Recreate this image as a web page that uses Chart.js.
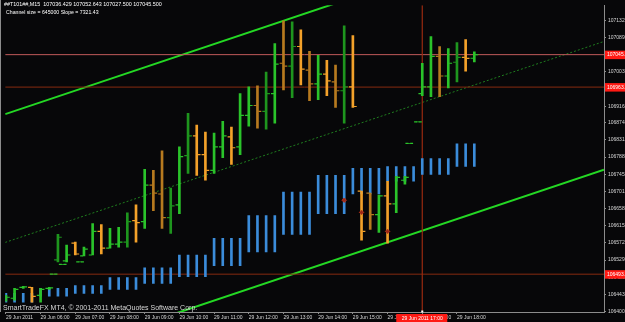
<!DOCTYPE html>
<html><head><meta charset="utf-8">
<script src="https://cdn.jsdelivr.net/npm/chart.js@4.4.0/dist/chart.umd.min.js"></script>
<style>html,body{margin:0;padding:0;background:#070709;overflow:hidden}#wrap{width:625px;height:322px;position:relative}</style>
</head><body><div id="wrap"><canvas id="c" width="625" height="322"></canvas></div>
<script>
// ---------------- DATA ----------------
const headerLine1 = "##T101##,M15  107036.429 107052.643 107027.500 107045.500";
const headerLine2 = "Channel size = 645000 Slope = 7321.43";
const copyright = "SmartTradeFX MT4, \u00A9 2001-2011 MetaQuotes Software Corp.";

// bar number (M15 bars from 29 Jun 05:00)
const timeLabelBars = [0,4,8,12,16,20,24,28,32,36,40,44,48,52];
const timeLabels = ["29 Jun 2011","29 Jun 06:00","29 Jun 07:00","29 Jun 08:00","29 Jun 09:00","29 Jun 10:00","29 Jun 11:00","29 Jun 12:00","29 Jun 13:00","29 Jun 14:00","29 Jun 15:00","29 Jun 16:00","29 Jun 17:00","29 Jun 18:00"];

const priceTicks = [106400,106443,106486,106529,106572,106615,106658,106701,106745,106788,106831,106874,106916,106960,107003,107046,107089,107132];
const priceLabels = ["106400","106443","106486","106529","106572","106615","106658","106701","106745","106788","106831","106874","106916","106960","107003","107046","107089","107132"];

const barIdx = [0,1,2,3,4,5,5.5,6,6.55,7,8,8.55,9,10,11,12,13,14,15,16,17,18,19,20,21,22,23,24,25,26,27,28,29,30,31,32,33,34,35,36,37,38,39,40,41,42,43,44,45,46,46.5,47.5,48,49,50,51,52,53,54];
const open  = [106430.4,106432.9,106460.1,106460.1,106440.3,106457.6,106493.4,106529.3,106518.2,106526.9,106571.4,106524.4,106539.2,106541.7,106601.0,106559.0,106568.9,106573.9,106628.3,106625.8,106717.3,106695.0,106635.7,106667.8,106791.5,106841.0,106794.0,106754.4,106813.7,106838.5,106813.7,106892.8,106917.6,106902.7,106947.3,107023.9,107016.5,107066.0,107006.6,106972.0,106996.7,106977.0,106954.7,106964.6,106702.4,106697.4,106643.1,106690.1,106670.3,106729.6,106822.4,106876.3,106947.3,106964.6,107041.2,106991.8,107026.4,107038.8,107036.429];
const high  = [106440.3,106457.6,106462.6,106460.1,106457.6,106460.1,106493.4,106593.7,106518.2,106566.4,106573.9,106524.4,106561.4,106620.8,106618.4,106608.5,106611.0,106648.0,106667.8,106756.9,106754.4,106803.9,106709.9,106813.7,106897.8,106868.1,106850.8,106848.3,106878.0,106863.2,106947.3,106964.6,106967.0,107001.7,107073.4,107130.3,107127.8,107108.0,107053.6,107043.7,107031.4,107019.0,107117.9,107093.2,106702.4,106697.4,106692.5,106727.2,106739.5,106739.5,106822.4,106876.3,107023.9,107090.7,107066.0,107061.0,107075.9,107083.3,107052.643];
const low   = [106425.4,106427.9,106457.6,106423.0,106423.0,106455.1,106493.4,106524.4,106518.2,106524.4,106541.7,106524.4,106539.2,106541.7,106544.2,106559.0,106561.4,106561.4,106573.9,106608.5,106653.0,106608.5,106596.1,106645.6,106747.0,106742.0,106729.6,106747.0,106786.5,106769.2,106794.0,106865.7,106860.7,106858.3,106873.1,106957.1,106937.4,106969.5,106929.9,106932.4,106942.3,106912.6,106873.1,106912.6,106578.8,106606.0,106598.6,106571.4,106648.0,106719.7,106822.4,106876.3,106942.3,106939.8,106939.8,106962.1,106977.0,107004.2,107027.5];
const close = [106435.4,106455.1,106461.3,106437.8,106455.1,106458.9,106493.4,106586.3,106518.2,106541.7,106544.2,106524.4,106556.5,106601.0,106559.0,106568.9,106573.9,106625.8,106623.3,106717.3,106697.4,106635.7,106665.4,106789.0,106841.0,106794.0,106754.4,106813.7,106841.0,106811.3,106892.8,106917.6,106902.7,106947.3,107021.5,107016.5,107066.0,107009.1,106972.0,106996.7,106979.4,106954.7,106964.6,106915.1,106601.0,106643.1,106690.1,106670.3,106737.1,106737.1,106822.4,106876.3,106964.6,107041.2,106991.8,107023.9,107038.8,107036.3,107045.5];

// hourly band indicator (blue), one entry per hour starting 05:00
const bandHigh = [106445.3,106457.6,106465.0,106484.8,106509.6,106541.7,106583.8,106640.6,106700.0,106742.0,106759.3,106764.3,106784.0,106821.1];
const bandLow  = [106423.0,106437.8,106445.3,106455.1,106470.0,106487.3,106514.5,106549.1,106593.7,106645.6,106695.0,106727.2,106744.5,106764.3];
const lastBar = 54;

// channel end points (bar number, price)
const channelBars  = [-0.08, 68.95];
const channelUpper = [106895.8, 107401.2];
const channelMid   = [106573.3, 107078.7];
const channelLower = [106250.8, 106756.2];

// horizontal levels and vertical line
const hLevels = [107045.5, 106963.9, 106493.4];
const hLevelLabels = ["107045.5", "106963.9", "106493.4"];
const vLineBar = 48;
const vLineLabel = "29 Jun 2011 17:00";

// signal markers
const markerBars = [39, 41, 44];
const markerPrices = [106679.4, 106648.8, 106601.0];

// ---------------- STYLE ----------------
const BG = '#070709';
const dimBars = [6,14,17,18,19,21,29,30,32,33,35,38,39,42,50,52];
const C_UP = '#2ac32a', C_UP_DIM = '#1e951e', C_DN = '#f3a12a', C_DN_DIM = '#b77a1f';
const C_BLUE = '#3b8cda';
const TICK_OFF = 0.27;
const xMin = -0.08, xMax = 68.95, yMax = 107169.85, yMin = 106398.3;
const FONT = '"Liberation Sans", Arial, sans-serif';

const barColors = barIdx.map((b,k) => {
  const up = close[k] >= open[k];
  const dim = dimBars.includes(b);
  return up ? (dim ? C_UP_DIM : C_UP) : (dim ? C_DN_DIM : C_DN);
});

const bandData = [];
for (let i = 0; i <= lastBar; i++) {
  const h = Math.floor(i / 4);
  bandData.push({x: i, y: [bandLow[h], bandHigh[h]]});
}

const mtPlugin = {
  id: 'mt',
  beforeDraw(chart) {
    const ctx = chart.ctx;
    ctx.save(); ctx.fillStyle = BG; ctx.fillRect(0, 0, chart.width, chart.height); ctx.restore();
  },
  afterDraw(chart) {
    const ctx = chart.ctx, xs = chart.scales.x, ys = chart.scales.y, ca = chart.chartArea;
    ctx.save();
    // left border
    ctx.strokeStyle = '#8c8c8c'; ctx.lineWidth = 1;
    ctx.beginPath(); ctx.moveTo(0.5, 0); ctx.lineTo(0.5, ca.bottom); ctx.stroke();
    // header
    ctx.fillStyle = '#ffffff'; ctx.textAlign = 'left'; ctx.textBaseline = 'middle';
    ctx.font = '5.4px ' + FONT;
    ctx.fillText(headerLine1, 4, 5);
    ctx.font = '5.2px ' + FONT;
    ctx.fillText(headerLine2, 6, 12.5);
    // copyright
    ctx.fillStyle = '#d8d8d8'; ctx.font = '7px ' + FONT;
    ctx.fillText(copyright, 3, 308);
    // red price labels
    ctx.font = '5px ' + FONT;
    hLevels.forEach((lv, k) => {
      const y = ys.getPixelForValue(lv);
      ctx.fillStyle = '#ff1a14'; ctx.fillRect(ca.right + 1, y - 4, 21, 8.5);
      ctx.fillStyle = '#ffffff'; ctx.fillText(hLevelLabels[k], ca.right + 3, y + 0.3);
    });
    // vertical line time label
    const vx = xs.getPixelForValue(vLineBar);
    ctx.fillStyle = '#ff1a14'; ctx.fillRect(vx - 26, ca.bottom + 2, 51, 8);
    ctx.fillStyle = '#ffffff'; ctx.textAlign = 'center'; ctx.font = '5px ' + FONT;
    ctx.fillText(vLineLabel, vx, ca.bottom + 6.2);
    ctx.fillRect(vx - 1, ca.bottom - 1.5, 2, 2);
    ctx.restore();
  }
};

const pts = (xs, ys) => xs.map((x, k) => ({x, y: ys[k]}));

new Chart(document.getElementById('c'), {
  type: 'bar',
  data: {
    datasets: [
      { type: 'line', data: markerBars.map((b,k)=>({x:b, y:markerPrices[k]})), showLine:false,
        pointStyle:'rectRot', pointRadius:2.2, pointBorderWidth:1, pointBorderColor:'#b8301c', pointBackgroundColor:'#9a2a18', order:1 },
      { type: 'line', data: barIdx.map((b,k)=>({x:b - TICK_OFF, y:open[k]})), showLine:false,
        pointStyle:'line', pointRadius:1.5, pointBorderWidth:1.2, pointBorderColor: barColors, order:2 },
      { type: 'line', data: barIdx.map((b,k)=>({x:b + TICK_OFF, y:close[k]})), showLine:false,
        pointStyle:'line', pointRadius:1.5, pointBorderWidth:1.2, pointBorderColor: barColors, order:3 },
      { type: 'bar', data: barIdx.map((b,k)=>({x:b, y:[low[k], high[k]]})), backgroundColor: barColors,
        barThickness: 2, grouped:false, borderWidth:0, order:4 },
      { type: 'bar', data: bandData, backgroundColor: C_BLUE, barThickness: 2, grouped:false, borderWidth:0, order:6 },
      { type: 'line', data: [{x:vLineBar, y:yMin}, {x:vLineBar, y:yMax}], borderColor:'#9a2a10', borderWidth:1.2, pointRadius:0, order:7 },
      ...hLevels.map((lv,k)=>({ type:'line', data:[{x:xMin,y:lv},{x:xMax,y:lv}], borderColor: k===0 ? '#c05a5a' : '#862a10', borderWidth:1, pointRadius:0, order:8 })),
      { type: 'line', data: pts(channelBars, channelUpper), borderColor:'#24d824', borderWidth:2, pointRadius:0, order:9 },
      { type: 'line', data: pts(channelBars, channelLower), borderColor:'#24d824', borderWidth:2, pointRadius:0, order:9 },
      { type: 'line', data: pts(channelBars, channelMid), borderColor:'#1f7d1f', borderWidth:1, borderDash:[2,2], pointRadius:0, order:9 }
    ]
  },
  options: {
    responsive:false, animation:false, devicePixelRatio:1,
    layout: { padding: 0 },
    plugins: { legend:{display:false}, tooltip:{enabled:false}, title:{display:false} },
    events: [],
    scales: {
      x: { type:'linear', min:xMin, max:xMax, offset:false, position:'bottom',
        afterBuildTicks: s => { s.ticks = timeLabelBars.map(v => ({value:v})); },
        afterFit: s => { s.height = 10; },
        ticks: { autoSkip:false, maxRotation:0, minRotation:0, align:'start', padding:1, color:'#d8d8d8',
          font:{family:FONT, size:5}, callback: v => timeLabels[timeLabelBars.indexOf(v)] },
        grid: { drawOnChartArea:false, drawTicks:true, tickLength:2, color:'#8c8c8c', offset:false },
        border: { display:true, color:'#8c8c8c', width:1 }
      },
      y: { type:'linear', position:'right', min:yMin, max:yMax,
        afterBuildTicks: s => { s.ticks = priceTicks.map(v => ({value:v})); },
        afterFit: s => { s.width = 21; },
        ticks: { autoSkip:false, padding:2, color:'#d8d8d8', font:{family:FONT, size:5},
          callback: v => priceLabels[priceTicks.indexOf(v)] },
        grid: { drawOnChartArea:false, drawTicks:true, tickLength:2, color:'#8c8c8c' },
        border: { display:true, color:'#8c8c8c', width:1 }
      }
    }
  },
  plugins: [mtPlugin]
});
</script></body></html>
